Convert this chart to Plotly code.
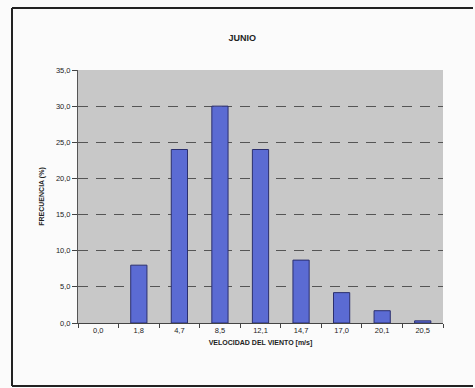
import plotly.graph_objects as go

categories = ["0,0", "1,8", "4,7", "8,5", "12,1", "14,7", "17,0", "20,1", "20,5"]
frecuencia = [0.0, 8.0, 24.0, 30.0, 24.0, 8.7, 4.2, 1.7, 0.3]
y_ticks = [0, 5, 10, 15, 20, 25, 30, 35]

font_family = "Liberation Sans, Arial, sans-serif"

fig = go.Figure(go.Bar(
    x=categories, y=frecuencia,
    marker=dict(color="#5b6bd3",
                line=dict(color="#2b2f6e", width=[0 if v == 0 else 1 for v in frecuencia])),
    width=0.4,
))

fig.update_layout(
    width=475, height=388,
    margin=dict(l=78, r=32, t=70, b=65),
    paper_bgcolor="#fbfbfb",
    plot_bgcolor="#c8c8c8",
    separators=",.",
    showlegend=False,
    title=dict(text="<b>JUNIO</b>", x=0.51, xanchor="center", y=1 - 38/388, yanchor="middle",
               font=dict(family=font_family, size=9, color="#222")),
    font=dict(family=font_family, size=7, color="#333"),
)

fig.update_xaxes(
    type="category",
    tickson="boundaries",
    ticks="outside", ticklen=4, tickcolor="#444",
    showline=True, linecolor="#444", linewidth=1,
    showgrid=False,
    tickfont=dict(size=7.5, color="#222"),
    title=dict(text="<b>VELOCIDAD DEL VIENTO [m/s]</b>", font=dict(size=7, color="#222"), standoff=6),
)

fig.update_yaxes(
    range=[0, 35],
    tickvals=y_ticks,
    tickformat=".1f",
    ticks="outside", ticklen=5, tickcolor="#444",
    showline=True, linecolor="#555", linewidth=1,
    showgrid=True, gridcolor="#555", griddash="10px,8px", gridwidth=1,
    zeroline=False,
    tickfont=dict(size=7.5, color="#222"),
    title=dict(text="<b>FRECUENCIA (%)</b>", font=dict(size=7, color="#222"), standoff=10),
)

# outer frame (left, top, bottom edges)
frame_color = "#222"
fig.add_shape(type="line", xref="paper", yref="paper", x0=-66/365, x1=-66/365,
              y0=-63/253, y1=1 + 62/253, line=dict(color=frame_color, width=2))
fig.add_shape(type="line", xref="paper", yref="paper", x0=-66/365, x1=1 + 30/365,
              y0=1 + 62/253, y1=1 + 62/253, line=dict(color=frame_color, width=2))
fig.add_shape(type="line", xref="paper", yref="paper", x0=-66/365, x1=1 + 30/365,
              y0=-63/253, y1=-63/253, line=dict(color=frame_color, width=2))

fig.write_html("out.html")
